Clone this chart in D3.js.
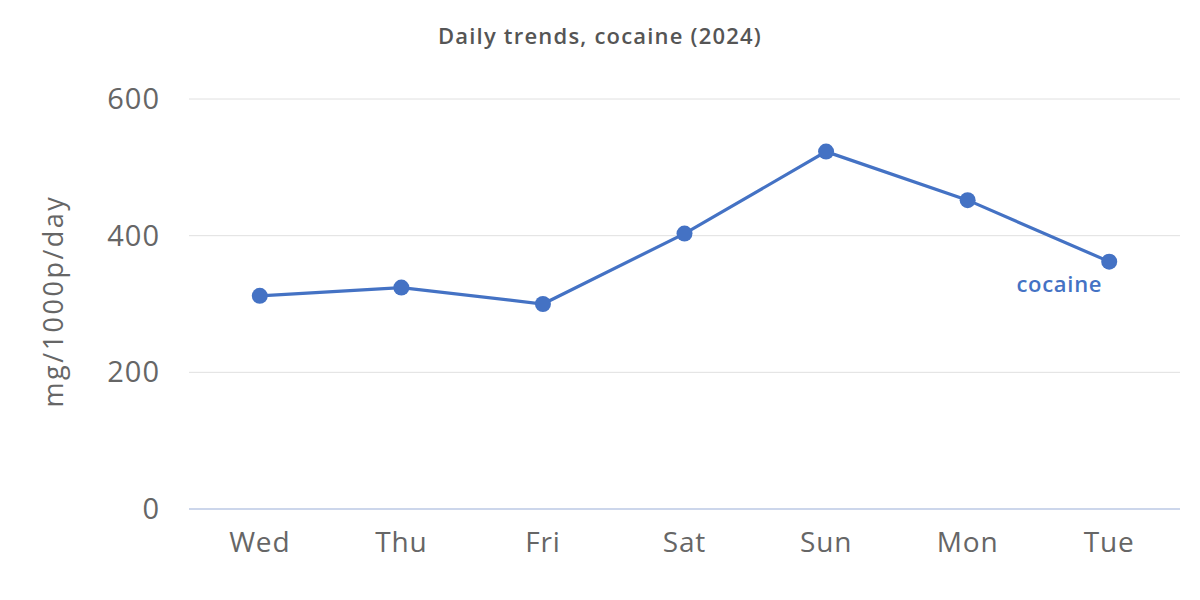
<!DOCTYPE html>
<html><head><meta charset="utf-8">
<script src="https://cdn.jsdelivr.net/npm/d3@7"></script>
<style>body{margin:0;background:#fff;} text{font-family:"Open Sans","Noto Sans",sans-serif;}</style>
</head><body><svg id="c" width="1200" height="600"></svg>
<script>
const days = ["Wed","Thu","Fri","Sat","Sun","Mon","Tue"];
const cocaine = [312, 324, 300, 403, 523, 452, 362];
const yTicks = [0, 200, 400, 600];
const seriesName = "cocaine";
const title = "Daily trends, cocaine (2024)";
const yTitle = "mg/1000p/day";

const svg = d3.select("#c");
const m = {l:189, r:1180, t:99, b:509};
const x = d3.scaleBand().domain(days).range([m.l, m.r]);
const y = d3.scaleLinear().domain([0, 600]).range([m.b, m.t]);
const col = "#4472c4";

svg.append("text").attr("x", 600).attr("y", 44).attr("text-anchor","middle")
  .attr("font-size", 22).attr("font-weight", 600).attr("letter-spacing", 1.2).attr("fill", "#555").text(title);

svg.append("g").selectAll("line").data(yTicks.filter(d=>d>0)).join("line")
  .attr("x1", m.l).attr("x2", m.r).attr("y1", d=>y(d)).attr("y2", d=>y(d))
  .attr("stroke", "#e0e0e0").attr("stroke-width", 1);
svg.append("line").attr("x1", m.l).attr("x2", m.r).attr("y1", y(0)).attr("y2", y(0))
  .attr("stroke", "#ccd6eb").attr("stroke-width", 2);

svg.append("g").selectAll("text").data(yTicks).join("text")
  .attr("x", 160).attr("y", d=>y(d)+10).attr("text-anchor","end")
  .attr("font-size", 29).attr("letter-spacing", 1).attr("fill", "#666").text(d=>d);

svg.append("text").attr("transform", `translate(63,${(m.t+m.b)/2 - 3}) rotate(-90)`)
  .attr("text-anchor","middle").attr("font-size", 27).attr("letter-spacing", 2.5).attr("fill", "#666").text(yTitle);

svg.append("g").selectAll("text").data(days).join("text")
  .attr("x", d=>x(d)+x.bandwidth()/2).attr("y", 552).attr("text-anchor","middle")
  .attr("font-size", 28).attr("letter-spacing", 0.8).attr("fill", "#666").text(d=>d);

const line = d3.line().x((d,i)=>x(days[i])+x.bandwidth()/2).y(d=>y(d));
svg.append("path").datum(cocaine).attr("d", line).attr("fill","none")
  .attr("stroke", col).attr("stroke-width", 3.2);
svg.append("g").selectAll("circle").data(cocaine).join("circle")
  .attr("cx", (d,i)=>x(days[i])+x.bandwidth()/2).attr("cy", d=>y(d)).attr("r", 8).attr("fill", col);

const last = cocaine.length-1;
svg.append("text").attr("x", x(days[last])+x.bandwidth()/2 - 7).attr("y", y(cocaine[last]) + 30)
  .attr("text-anchor","end").attr("font-size", 22).attr("font-weight", 600).attr("letter-spacing", 0.7).attr("fill", col).text(seriesName);
</script></body></html>
